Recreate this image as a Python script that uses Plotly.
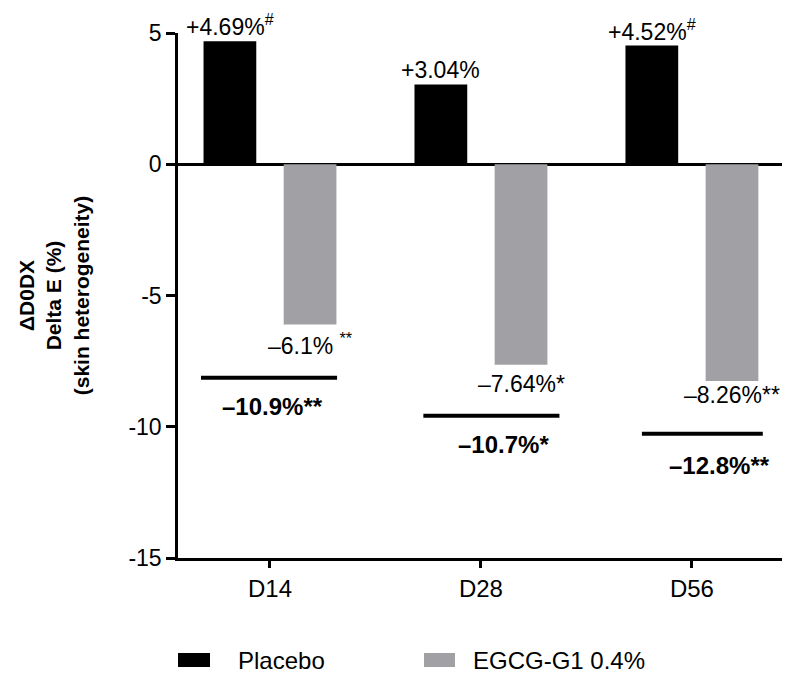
import plotly.graph_objects as go

# ---- data ----
timepoints = ["D14", "D28", "D56"]
placebo = [4.69, 3.04, 4.52]
egcg = [-6.1, -7.64, -8.26]
placebo_labels = ["+4.69%", "+3.04%", "+4.52%"]
placebo_marks = ["<sup>#</sup>", "", "<sup>#</sup>"]
egcg_labels = ["\u20136.1%", "\u20137.64%", "\u20138.26%"]
egcg_marks = [" <sup>**</sup>", "*", "**"]
diff_labels = ["\u201310.9%**", "\u201310.7%*", "\u201312.8%**"]

# ---- layout constants ----
x_pos = [0, 1, 2]
bar_w = 0.25
bar_off = 0.19
FONT = "Liberation Sans, Arial, Helvetica, sans-serif"
BLACK = "#000000"
GREY = "#a1a1a5"

# comparison bars: (x start offset, x end offset, y), text (x offset, y)
diff_lines = [(-0.327, 0.318, -8.13), (-0.273, 0.372, -9.58), (-0.237, 0.336, -10.27)]
diff_text = [(0.01, -9.24), (0.107, -10.69), (0.133, -11.49)]
egcg_label_shift = [-3, -4, 1]

fig = go.Figure()
fig.add_trace(go.Bar(
    x=[p - bar_off for p in x_pos], y=placebo, width=bar_w, name="Placebo",
    marker=dict(color=BLACK, line=dict(width=0)), showlegend=False,
))
fig.add_trace(go.Bar(
    x=[p + bar_off for p in x_pos], y=egcg, width=bar_w, name="EGCG-G1 0.4%",
    marker=dict(color=GREY, line=dict(width=0)), showlegend=False,
))

annotations = []
shapes = []
for i, p in enumerate(x_pos):
    annotations.append(dict(
        x=p - bar_off, y=placebo[i], xref="x", yref="y", yanchor="bottom",
        text=placebo_labels[i] + placebo_marks[i], showarrow=False, yshift=-1,
        font=dict(family=FONT, size=23, color=BLACK),
    ))
    annotations.append(dict(
        x=p + bar_off, y=egcg[i], xref="x", yref="y", yanchor="top",
        text=egcg_labels[i] + egcg_marks[i], showarrow=False, yshift=egcg_label_shift[i],
        font=dict(family=FONT, size=23, color=BLACK),
    ))
    x0, x1, ly = diff_lines[i]
    shapes.append(dict(type="line", xref="x", yref="y", x0=p + x0, x1=p + x1, y0=ly, y1=ly,
                       line=dict(color=BLACK, width=4)))
    tx, ty = diff_text[i]
    annotations.append(dict(
        x=p + tx, y=ty, xref="x", yref="y", showarrow=False,
        text=diff_labels[i],
        font=dict(family=FONT, size=24, color=BLACK, weight="bold"),
    ))

# legend keys drawn below the plot
legend_items = [("Placebo", BLACK, 0.0, 0.053, 0.0964), ("EGCG-G1 0.4%", GREY, 0.4073, 0.4586, 0.4851)]
for label, col, bx0, bx1, tx in legend_items:
    shapes.append(dict(type="rect", xref="paper", yref="paper", x0=bx0, x1=bx1,
                       y0=-0.2076, y1=-0.1810, fillcolor=col, line=dict(width=0)))
    annotations.append(dict(x=tx, y=-0.1943, xref="paper", yref="paper", xanchor="left",
                            yanchor="middle", text=label, showarrow=False,
                            font=dict(family=FONT, size=24, color=BLACK)))

fig.update_layout(
    width=793, height=679,
    margin=dict(l=178, r=11, t=33, b=121),
    paper_bgcolor="white", plot_bgcolor="white",
    barmode="overlay",
    font=dict(family=FONT, size=23, color=BLACK),
    annotations=annotations, shapes=shapes,
    xaxis=dict(
        range=[-0.436, 2.427], tickvals=x_pos, ticktext=timepoints,
        showline=True, linecolor=BLACK, linewidth=2.5,
        ticks="outside", ticklen=7, tickwidth=2.5, tickcolor=BLACK,
        showgrid=False, zeroline=False, tickfont=dict(size=24),
    ),
    yaxis=dict(
        range=[-15, 5], tickvals=[5, 0, -5, -10, -15], ticktext=["5", "0", "-5", "-10", "-15"],
        showline=True, linecolor=BLACK, linewidth=2.5,
        ticks="outside", ticklen=9, tickwidth=2.5, tickcolor=BLACK,
        showgrid=False, zeroline=True, zerolinecolor=BLACK, zerolinewidth=2.5,
        tickfont=dict(size=23),
        title=dict(text="\u0394D0DX<br>Delta E (%)<br>(skin heterogeneity)",
                   font=dict(size=21, weight="bold"), standoff=34),
    ),
)

fig.write_html("out.html")
